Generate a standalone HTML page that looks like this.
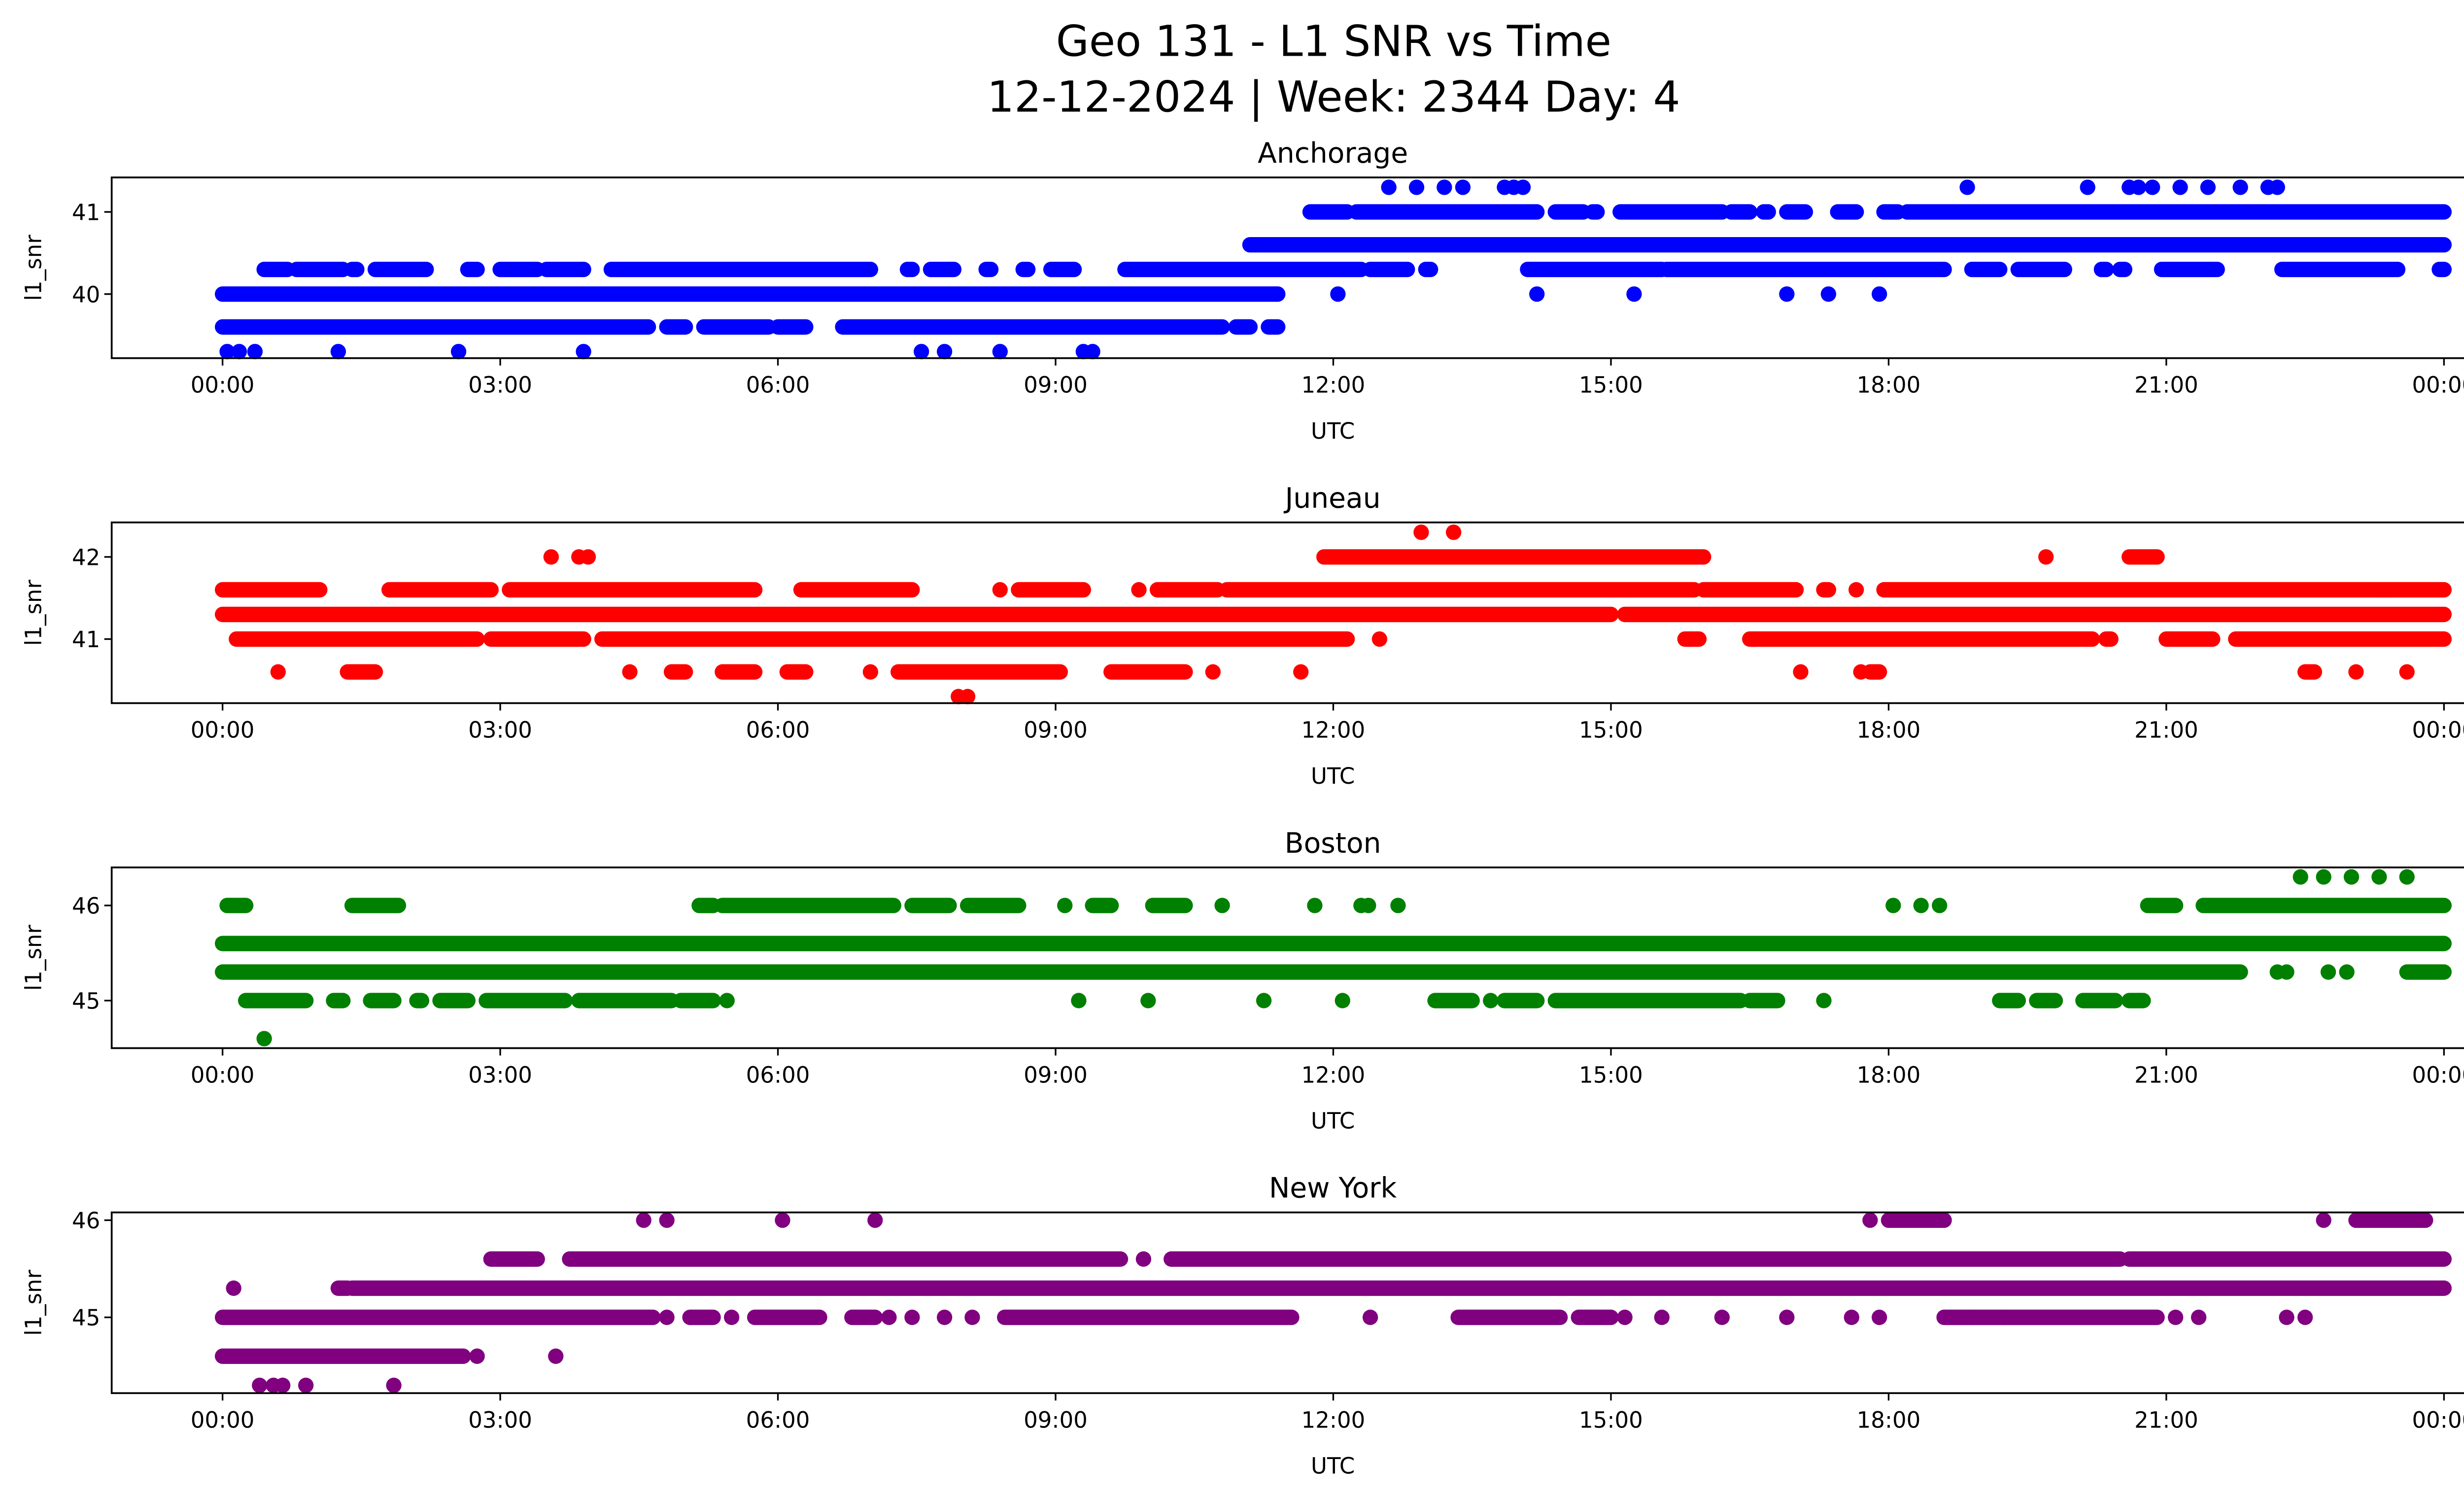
<!DOCTYPE html>
<html><head><meta charset="utf-8"><style>html,body{margin:0;padding:0;background:#fff}svg{display:block}text{font-family:"DejaVu Sans","Liberation Sans",sans-serif;fill:#000}</style></head>
<body>
<svg id="fig" xmlns="http://www.w3.org/2000/svg" width="5226" height="3033" viewBox="0 0 1568 910">
<rect width="1568" height="910" fill="#fff"/>
<text x="812" y="34" font-size="26" text-anchor="middle">Geo 131 - L1 SNR vs Time</text>
<text x="812" y="68" font-size="26" text-anchor="middle">12-12-2024 | Week: 2344 Day: 4</text>
<g id="plots"></g>
</svg>
<script>
// time ticks (hours) and labels
const tickHours = [0,3,6,9,12,15,18,21,24];
const tickLabels = ["00:00","03:00","06:00","09:00","12:00","15:00","18:00","21:00","00:00"];
// station names, colors
const stations = ["Anchorage","Juneau","Boston","New York"];
const colors = ["#0000ff","#ff0000","#008000","#800080"];
const yLimits = [[39.22,41.42],[40.22,42.42],[44.5,46.4],[44.22,46.08]];
const yTicks = [[40,41],[41,42],[45,46],[45,46]];
// dense runs: [snr, startHour, endHour]
const anchorageRuns = [[40,0,11.4],[39.6,0,4.6],[39.6,4.8,5.0],[39.6,5.2,5.9],[39.6,6.0,6.3],[39.6,6.7,10.8],[39.6,10.95,11.1],[39.6,11.3,11.4],
 [40.3,0.45,0.7],[40.3,0.8,1.3],[40.3,1.4,1.45],[40.3,1.65,2.2],[40.3,2.65,2.75],[40.3,3.0,3.4],[40.3,3.5,3.9],[40.3,4.2,7.0],[40.3,7.4,7.45],[40.3,7.65,7.9],[40.3,8.25,8.3],[40.3,8.65,8.7],[40.3,8.95,9.2],[40.3,9.75,12.3],[40.3,12.4,12.8],[40.3,13.0,13.05],[40.3,14.1,15.55],[40.3,15.6,18.6],[40.3,18.9,19.2],[40.3,19.4,19.9],[40.3,20.3,20.35],[40.3,20.5,20.55],[40.3,20.95,21.55],[40.3,22.25,23.5],[40.3,23.95,24],
 [40.6,11.1,24],[41,11.75,12.15],[41,12.25,14.2],[41,14.4,14.7],[41,14.8,14.85],[41,15.1,16.2],[41,16.3,16.5],[41,16.65,16.7],[41,16.9,17.1],[41,17.45,17.65],[41,17.95,18.1],[41,18.2,24]];
const anchoragePts = [[39.3,0.05],[39.3,0.18],[39.3,0.35],[39.3,1.25],[39.3,2.55],[39.3,3.9],[39.3,7.55],[39.3,7.8],[39.3,8.4],[39.3,9.3],[39.3,9.4],
 [41.3,12.6],[41.3,12.9],[41.3,13.2],[41.3,13.4],[41.3,13.85],[41.3,13.95],[41.3,14.05],[41.3,18.85],[41.3,20.15],[41.3,20.6],[41.3,20.7],[41.3,20.85],[41.3,21.15],[41.3,21.45],[41.3,21.8],[41.3,22.1],[41.3,22.2],
 [40,12.05],[40,14.2],[40,15.25],[40,16.9],[40,17.35],[40,17.9]];
const juneauRuns = [[41.3,0,15.0],[41.3,15.15,24],[41.6,0,1.05],[41.6,1.8,2.9],[41.6,3.1,5.75],[41.6,6.25,7.45],[41.6,8.6,9.3],[41.6,10.1,10.75],[41.6,10.85,15.9],[41.6,16,17.0],[41.6,17.3,17.35],[41.6,17.95,24],
 [42,11.9,16.0],[42,20.6,20.9],[41,0.15,2.75],[41,2.9,3.9],[41,4.1,12.15],[41,15.8,15.95],[41,16.5,20.2],[41,20.35,20.4],[41,21,21.5],[41,21.75,24],
 [40.6,7.3,9.05],[40.6,9.6,10.4],[40.6,1.35,1.65],[40.6,4.85,5.0],[40.6,5.4,5.75],[40.6,6.1,6.3],[40.6,17.8,17.9],[40.6,22.5,22.6]];
const juneauPts = [[42.3,12.95],[42.3,13.3],[42,3.55],[42,3.85],[42,3.95],[42,19.7],[40.6,0.6],[40.6,4.4],[40.6,7.0],[40.6,10.7],[40.6,11.65],[40.6,17.05],[40.6,17.7],[40.6,23.05],[40.6,23.6],[41,12.5],[40.3,7.95],[40.3,8.05],[41.6,8.4],[41.6,9.9],[41.6,17.65],[41.6,23.3],[41.6,23.4]];
const bostonRuns = [[45.6,0,24],[45.3,0,21.8],[45.3,23.6,24],[46,0.05,0.25],[46,1.4,1.9],[46,5.15,5.3],[46,5.4,7.25],[46,7.45,7.85],[46,8.05,8.6],[46,9.4,9.6],[46,10.05,10.4],[46,20.8,21.1],[46,21.4,24],
 [45,0.25,0.9],[45,1.2,1.3],[45,1.6,1.85],[45,2.1,2.15],[45,2.35,2.65],[45,2.85,3.7],[45,3.85,4.85],[45,4.95,5.3],[45,13.1,13.5],[45,13.85,14.2],[45,14.4,16.4],[45,16.5,16.8],[45,19.2,19.4],[45,19.6,19.8],[45,20.1,20.45],[45,20.6,20.75]];
const bostonPts = [[46.3,22.45],[46.3,22.7],[46.3,23.0],[46.3,23.3],[46.3,23.6],[46,9.1],[46,10.8],[46,11.8],[46,12.3],[46,12.38],[46,12.7],[46,18.05],[46,18.35],[46,18.55],
 [45,5.45],[45,9.25],[45,10.0],[45,11.25],[45,12.1],[45,13.7],[45,16.55],[45,17.3],[45,20.7],[45.3,22.2],[45.3,22.3],[45.3,22.75],[45.3,22.95],[44.6,0.45]];
const nyRuns = [[45.3,1.25,1.35],[45.3,1.4,24],[45.6,2.9,3.4],[45.6,3.75,9.7],[45.6,10.25,20.5],[45.6,20.6,24],[45,0,4.65],[45,5.05,5.3],[45,5.75,6.45],[45,6.8,7.05],[45,8.45,11.55],[45,13.35,14.45],[45,14.65,15.0],[45,18.6,20.9],[44.6,0,2.6],[46,18.0,18.6],[46,23.05,23.8]];
const nyPts = [[45.3,0.12],[46,4.55],[46,4.8],[46,6.05],[46,7.05],[46,17.8],[46,22.7],[45.6,9.95],[45,4.8],[45,5.5],[45,7.2],[45,7.45],[45,7.8],[45,8.1],[45,12.4],[45,14.75],[45,15.15],[45,15.55],[45,16.2],[45,16.9],[45,17.6],[45,17.9],[45,18.6],[45,18.9],[45,19.25],[45,21.1],[45,21.35],[45,22.3],[45,22.5],[44.6,2.75],[44.3,0.4],[44.3,0.55],[44.3,0.65],[44.3,0.9],[44.3,1.85],[44.6,3.6]];
const allRuns = [anchorageRuns, juneauRuns, bostonRuns, nyRuns];
const allPts = [anchoragePts, juneauPts, bostonPts, nyPts];

const NS = "http://www.w3.org/2000/svg";
const L = 68, R = 1555, H = 110, tops = [108,318,528,738];
const X0 = 135.5, X1 = 1488;
const xs = h => X0 + (X1 - X0) * h / 24;
function mk(tag, attrs, parent){const e=document.createElementNS(NS,tag);for(const k in attrs)e.setAttribute(k,attrs[k]);parent.appendChild(e);return e;}
const root = document.getElementById('plots');
stations.forEach((name, i) => {
  const top = tops[i], [y0, y1] = yLimits[i];
  const ys = v => top + H - (v - y0) / (y1 - y0) * H;
  const g = mk('g', {}, root);
  
  
  const t = mk('text', {x:(L+R)/2, y:top-9, 'font-size':17, 'text-anchor':'middle'}, g);
  t.textContent = name;
  
  
  const marks = mk('g', {fill:colors[i], stroke:colors[i]}, g);
  
  
  allRuns[i].forEach(r => {
    const ln = mk('line', {x1:xs(r[1]), x2:xs(r[2]), y1:ys(r[0]), y2:ys(r[0]), 'stroke-width':9.4, 'stroke-linecap':'round'}, marks);
    
    
  });
  allPts[i].forEach(p => {
    const c = mk('circle', {cx:xs(p[1]), cy:ys(p[0]), r:4.7, stroke:'none'}, marks);
    
    
  });
  const frame = mk('rect', {x:L, y:top, width:R-L, height:H, fill:'none', stroke:'#000', 'stroke-width':1.1}, g);
  
  
  tickHours.forEach((h, k) => {
    mk('line', {x1:xs(h), x2:xs(h), y1:top+H, y2:top+H+4.5, stroke:'#000', 'stroke-width':1}, g);
    const tl = mk('text', {x:xs(h), y:top+H+21, 'font-size':13.5, 'text-anchor':'middle'}, g);
    tl.textContent = tickLabels[k];
    
    
  });
  yTicks[i].forEach(v => {
    mk('line', {x1:L-4.5, x2:L, y1:ys(v), y2:ys(v), stroke:'#000', 'stroke-width':1}, g);
    const yl = mk('text', {x:L-7, y:ys(v)+5, 'font-size':13.5, 'text-anchor':'end'}, g);
    yl.textContent = v;
    
    
  });
  const xt = mk('text', {x:(L+R)/2, y:top+H+49, 'font-size':13.5, 'text-anchor':'middle'}, g);
  xt.textContent = 'UTC';
  
  
  const yt = mk('text', {x:0, y:0, 'font-size':13.5, 'text-anchor':'middle', transform:`translate(25,${top+H/2}) rotate(-90)`}, g);
  yt.textContent = 'l1_snr';
  
  
});
</script>
</body></html>
